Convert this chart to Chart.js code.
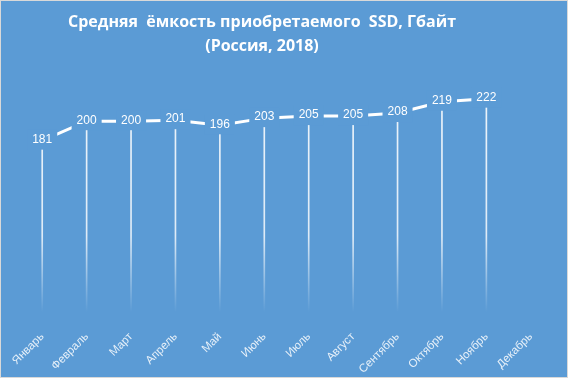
<!DOCTYPE html>
<html>
<head>
<meta charset="utf-8">
<script src="https://cdn.jsdelivr.net/npm/chart.js@4"></script>
<style>
  html, body { margin: 0; padding: 0; background: #5B9BD5; }
  #wrap { width: 568px; height: 378px; }
</style>
</head>
<body>
<div id="wrap"><canvas id="c" width="568" height="378"></canvas></div>
<script>
const months = ['Январь','Февраль','Март','Апрель','Май','Июнь','Июль','Август','Сентябрь','Октябрь','Ноябрь','Декабрь'];
const capacity = [181, 200, 200, 201, 196, 203, 205, 205, 208, 219, 222, null];
const titleLines = ['Средняя  ёмкость приобретаемого  SSD, Гбайт', '(Россия, 2018)'];

const BG = '#5B9BD5';

const bgPlugin = {
  id: 'bg',
  beforeDraw(chart) {
    const c = chart.ctx;
    c.save();
    c.fillStyle = BG;
    c.fillRect(0, 0, chart.width, chart.height);
    c.strokeStyle = '#D9D9D9';
    c.lineWidth = 1;
    c.strokeRect(0.5, 0.5, chart.width - 1, chart.height - 1);
    c.restore();
  }
};

const titlePlugin = {
  id: 'customTitle',
  afterDraw(chart) {
    const c = chart.ctx;
    c.save();
    c.fillStyle = '#FFFFFF';
    c.font = 'bold 16px "Open Sans", sans-serif';
    c.textAlign = 'center';
    c.textBaseline = 'middle';
    c.fillText(titleLines[0], 262, 22);
    c.fillText(titleLines[1], 262, 46);
    c.restore();
  }
};

const labelPlugin = {
  id: 'pointLabels',
  afterDatasetsDraw(chart) {
    const meta = chart.getDatasetMeta(1);
    const data = chart.data.datasets[1].data;
    const c = chart.ctx;
    c.save();
    c.font = '12px "Liberation Sans", Arial, sans-serif';
    c.textAlign = 'center';
    c.textBaseline = 'middle';
    meta.data.forEach((pt, i) => {
      const v = data[i];
      if (v === null || v === undefined) return;
      const txt = String(v);
      const w = c.measureText(txt).width + 10;
      const h = 20;
      c.fillStyle = BG;
      c.fillRect(pt.x - w / 2, pt.y - h / 2 - 1, w, h);
      c.fillStyle = '#FFFFFF';
      c.fillText(txt, pt.x, pt.y - 1);
    });
    c.restore();
  }
};

function dropGradient(ctx) {
  const chart = ctx.chart;
  const area = chart.chartArea;
  if (!area) return 'rgba(255,255,255,0.85)';
  const g = chart.ctx.createLinearGradient(0, area.top, 0, area.bottom);
  const span = area.bottom - area.top;
  g.addColorStop(0, 'rgba(255,255,255,0.9)');
  g.addColorStop((span - 90) / span, 'rgba(255,255,255,0.8)');
  g.addColorStop((span - 14) / span, 'rgba(255,255,255,0)');
  g.addColorStop(1, 'rgba(255,255,255,0)');
  return g;
}

new Chart(document.getElementById('c'), {
  type: 'bar',
  data: {
    labels: months,
    datasets: [
      {
        type: 'bar',
        data: capacity,
        backgroundColor: dropGradient,
        borderWidth: 0,
        barThickness: 1,
        order: 2
      },
      {
        type: 'line',
        data: capacity,
        borderColor: '#FFFFFF',
        borderWidth: 3,
        pointRadius: 0,
        tension: 0,
        spanGaps: false,
        order: 1
      }
    ]
  },
  options: {
    responsive: false,
    animation: false,
    layout: { padding: { left: 20, right: 15, bottom: 0, top: 70 } },
    plugins: {
      legend: { display: false },
      tooltip: { enabled: false },
      title: { display: false }
    },
    scales: {
      y: { display: false, min: 0, max: 250 },
      x: {
        grid: { display: false, drawTicks: false },
        border: { display: false },
        ticks: {
          autoSkip: false,
          minRotation: 45,
          maxRotation: 45,
          padding: 4,
          color: 'rgba(255,255,255,0.85)',
          font: { family: '"Liberation Sans", Arial, sans-serif', size: 11.5 }
        },
        afterFit(scale) { scale.height = 52; }
      }
    }
  },
  plugins: [bgPlugin, labelPlugin, titlePlugin]
});
</script>
</body>
</html>
